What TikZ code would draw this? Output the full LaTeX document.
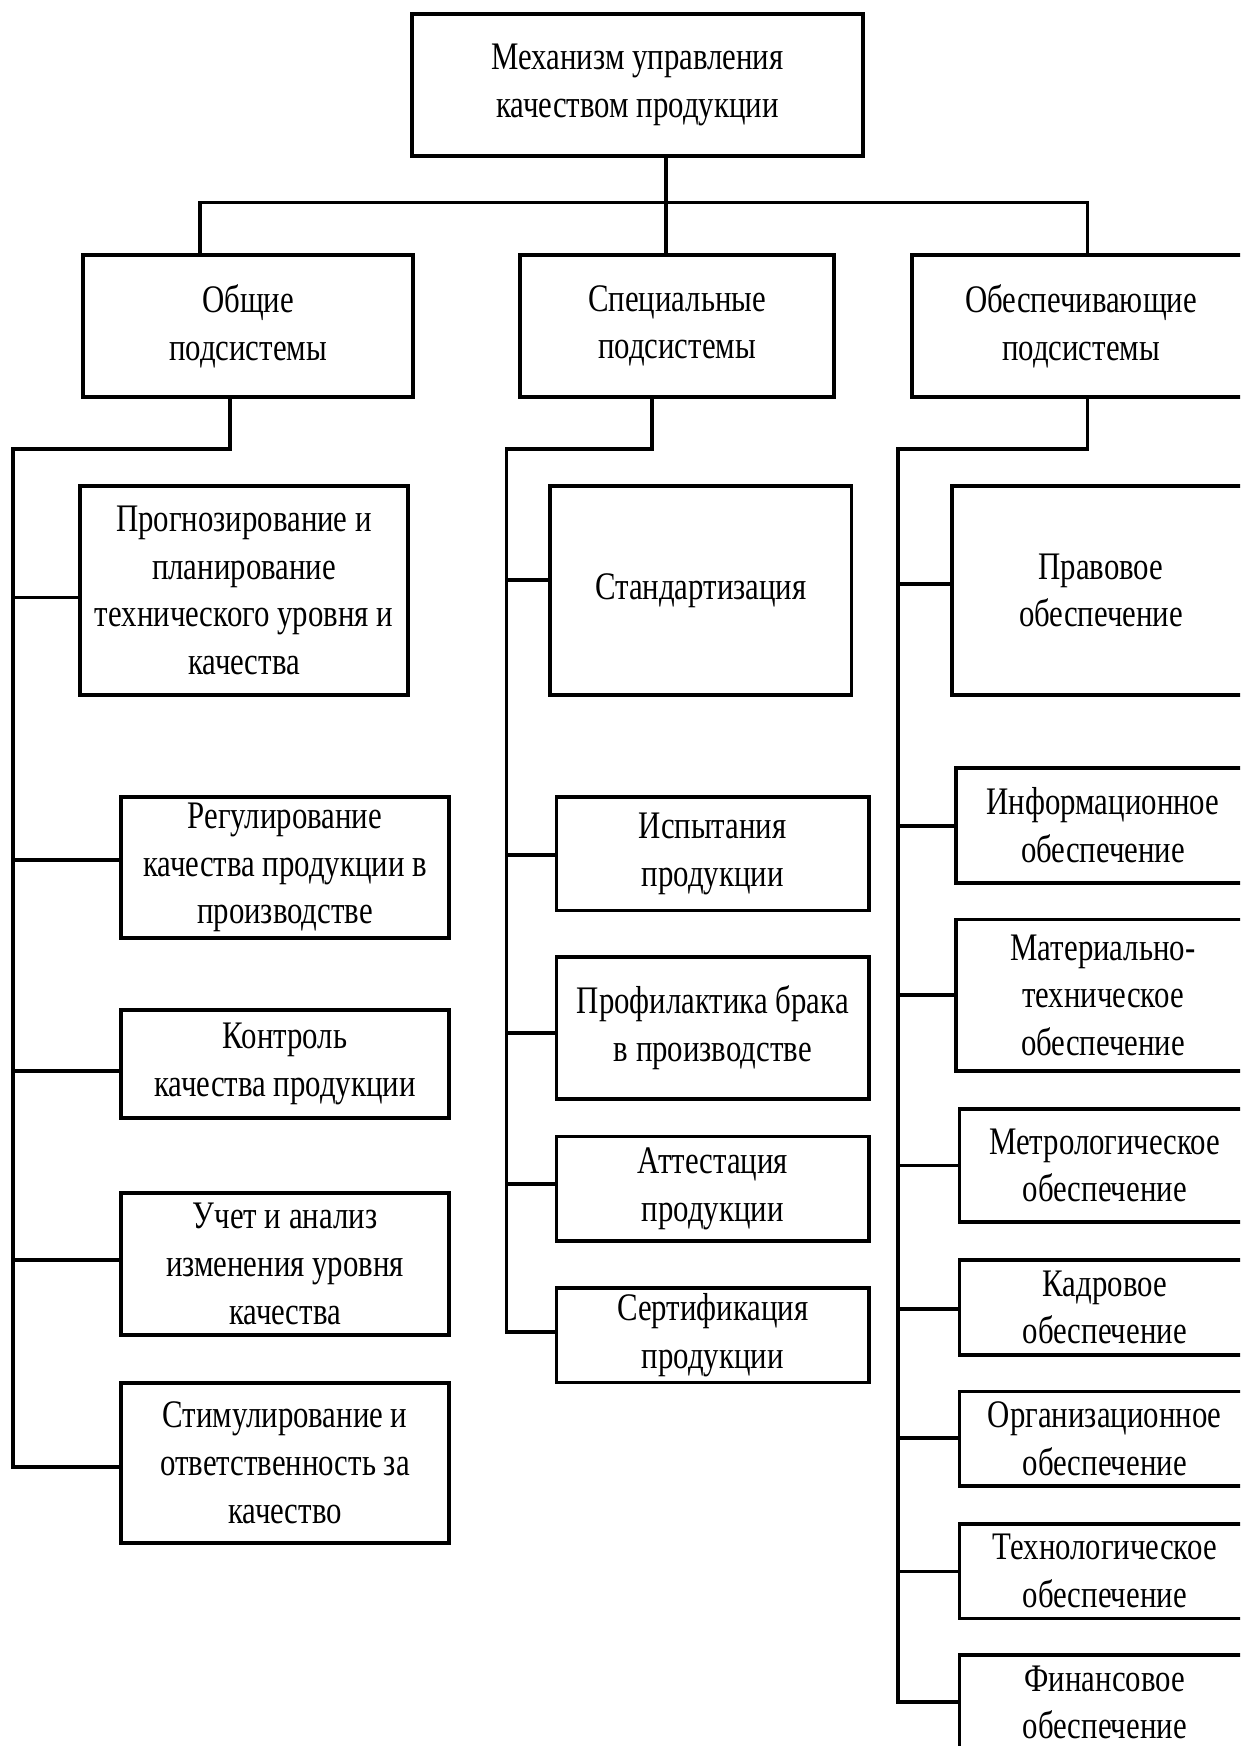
\documentclass[tikz,border=0pt]{standalone}
\usepackage{fontspec}
\setmainfont{Liberation Serif}[FakeStretch=0.79]
\begin{document}
\begin{tikzpicture}[x=1pt,y=-1pt,
  box/.style={draw=black,line width=3.8pt,fill=white,align=center,inner sep=0pt,
    font=\fontsize{39}{47.7}\selectfont},
  conn/.style={line width=3.4pt,line join=miter}]
\clip (0,0) rectangle (1240,1746);
\fill[white] (0,0) rectangle (1240,1746);
% top
\node[box,minimum width=451pt,minimum height=142pt] (top) at (637.5,85) {Механизм управления\\качеством продукции};
% level 2
\node[box,minimum width=330pt,minimum height=142pt] (ga) at (248,326) {Общие\\подсистемы};
\node[box,minimum width=314pt,minimum height=142pt] (gb) at (677,326) {Специальные\\подсистемы};
\node[box,minimum width=338pt,minimum height=142pt] (gc) at (1081,326) {Обеспечивающие\\подсистемы};
% left column
\node[box,minimum width=328.5pt,minimum height=209pt] (b1) at (244,590.5) {Прогнозирование и\\планирование\\технического уровня и\\качества};
\node[box,minimum width=328pt,minimum height=141pt] (b2) at (285,867.5) {Регулирование\\качества продукции в\\производстве};
\node[box,minimum width=328pt,minimum height=108pt] (b3) at (285,1063.6) {Контроль\\качества продукции};
\node[box,minimum width=328pt,minimum height=141.6pt] (b4) at (285,1263.8) {Учет и анализ\\изменения уровня\\качества};
\node[box,minimum width=328pt,minimum height=160pt] (b5) at (285,1462.6) {Стимулирование и\\ответственность за\\качество};
% middle column
\node[box,minimum width=301.5pt,minimum height=209pt] (m1) at (700.75,590.5) {Стандартизация};
\node[box,minimum width=312.5pt,minimum height=113.5pt] (m2) at (712.75,853.75) {Испытания\\продукции};
\node[box,minimum width=312.5pt,minimum height=141.6pt] (m3) at (712.75,1027.8) {Профилактика брака\\в производстве};
\node[box,minimum width=312.5pt,minimum height=104.5pt] (m4) at (712.75,1188.75) {Аттестация\\продукции};
\node[box,minimum width=312.5pt,minimum height=94.5pt] (m5) at (712.75,1335.25) {Сертификация\\продукции};
% right column
\node[box,minimum width=298pt,minimum height=209pt] (r1) at (1101,590.5) {Правовое\\обеспечение};
\node[box,minimum width=294pt,minimum height=114.7pt] (r2) at (1103,825.35) {Информационное\\обеспечение};
\node[box,minimum width=294pt,minimum height=151.5pt] (r3) at (1103,995.25) {Материально-\\техническое\\обеспечение};
\node[box,minimum width=290.5pt,minimum height=113.3pt] (r4) at (1104.75,1165.35) {Метрологическое\\обеспечение};
\node[box,minimum width=290.5pt,minimum height=94.6pt] (r5) at (1104.75,1307.3) {Кадровое\\обеспечение};
\node[box,minimum width=290.5pt,minimum height=94.6pt] (r6) at (1104.75,1438.7) {Организационное\\обеспечение};
\node[box,minimum width=290.5pt,minimum height=94.5pt] (r7) at (1104.75,1571.25) {Технологическое\\обеспечение};
\node[box,minimum width=290.5pt,minimum height=95pt] (r8) at (1104.75,1702.5) {Финансовое\\обеспечение};
% coordinates
\coordinate (bus) at (666,202.6);
\coordinate (tl) at (13,449);
\coordinate (tm) at (506.5,449);
\coordinate (tr) at (898,449);
% top connectors
\draw[conn] (top.south -| bus) -- (gb.north -| bus);
\draw[conn] (ga.north -| 200,0) -- (200,202.6) -- (1087.5,202.6) -- (gc.north -| 1087.5,0);
% left trunk
\draw[conn] (ga.south -| 230,0) -- (230,449) -- (tl) -- (13,1467) -- (b5.west |- 0,1467);
\draw[conn] (13,597.7) -- (b1.west |- 0,597.7);
\draw[conn] (13,860) -- (b2.west |- 0,860);
\draw[conn] (13,1071) -- (b3.west |- 0,1071);
\draw[conn] (13,1260) -- (b4.west |- 0,1260);
% middle trunk
\draw[conn] (gb.south -| 652,0) -- (652,449) -- (tm) -- (506.5,1332) -- (m5.west |- 0,1332);
\draw[conn] (506.5,580) -- (m1.west |- 0,580);
\draw[conn] (506.5,855) -- (m2.west |- 0,855);
\draw[conn] (506.5,1033) -- (m3.west |- 0,1033);
\draw[conn] (506.5,1184) -- (m4.west |- 0,1184);
% right trunk
\draw[conn] (gc.south -| 1087.5,0) -- (1087.5,449) -- (tr) -- (898,1702) -- (r8.west |- 0,1702);
\draw[conn] (898,584) -- (r1.west |- 0,584);
\draw[conn] (898,826) -- (r2.west |- 0,826);
\draw[conn] (898,995) -- (r3.west |- 0,995);
\draw[conn] (898,1165.5) -- (r4.west |- 0,1165.5);
\draw[conn] (898,1309) -- (r5.west |- 0,1309);
\draw[conn] (898,1438) -- (r6.west |- 0,1438);
\draw[conn] (898,1571.7) -- (r7.west |- 0,1571.7);
\end{tikzpicture}
\end{document}
